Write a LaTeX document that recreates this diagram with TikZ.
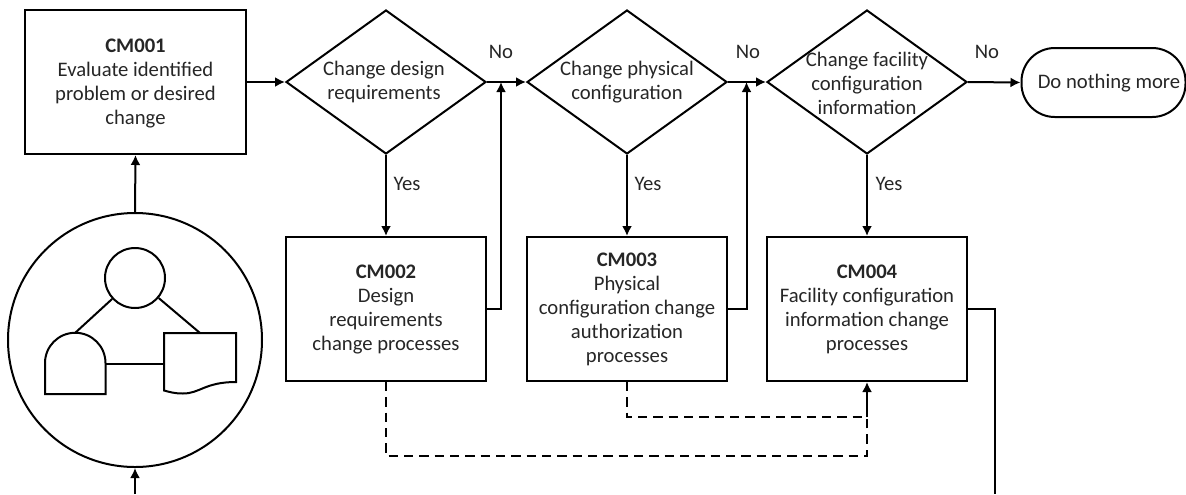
\documentclass[tikz,border=0pt]{standalone}
\usepackage{fontspec}
\setmainfont{Carlito}
\usetikzlibrary{shapes.geometric,arrows.meta,calc}
\tikzset{
  px/.style={x=0.75pt,y=-0.75pt},
  ln/.style={line width=1.5pt,draw=black},
  boxn/.style={ln,rectangle,minimum width=150pt,minimum height=108pt,inner sep=0pt,fill=white},
  first/.style={ln,rectangle,minimum width=165.75pt,minimum height=108pt,inner sep=0pt},
  dia/.style={ln,diamond,minimum width=150pt,minimum height=108pt,inner sep=0pt,aspect=1.389},
  term/.style={ln,rectangle,rounded corners=25pt,minimum width=123pt,minimum height=51.75pt,inner sep=0pt},
  txt/.style={align=center,font=\fontsize{15.5}{18}\selectfont,text=black!85,inner sep=0pt},
  conn/.style={ln,-{Latex[length=7.5pt,width=7.5pt]}},
  plain/.style={ln},
  dashln/.style={ln,dash pattern=on 7pt off 4.5pt},
}
\begin{document}
\begin{tikzpicture}[px]
\useasboundingbox (0,0) rectangle (1186,494);
% boxes
\node[first] (c1) at (135.5,82) {};
\node[txt] (c1t) at (135.5,83) {\textbf{CM001}\\Evaluate identified\\problem or desired\\change};
\node[dia] (d1) at (386,82) {};
\node[txt] (d1t) at (384,82) {Change design\\requirements};
\node[dia] (d2) at (627,82) {};
\node[txt] (d2t) at (627,82) {Change physical\\configuration};
\node[dia] (d3) at (867,82) {};
\node[txt] (d3t) at (867,83) {Change facility\\configuration\\information};
\node[term] (t) at (1103.5,82.5) {};
\node[txt] (tt) at (1109,83) {Do nothing more};
\node[boxn] (c2) at (386,309) {};
\node[txt] (c2t) at (386,309) {\textbf{CM002}\\Design\\requirements\\change processes};
\node[boxn] (c3) at (627,309) {};
\node[txt] (c3t) at (627,309) {\textbf{CM003}\\Physical\\configuration change\\authorization\\processes};
\node[boxn] (c4) at (867,309) {};
\node[txt] (c4t) at (867,309) {\textbf{CM004}\\Facility configuration\\information change\\processes};
% big circle and icon
\node[ln,circle,minimum size=190.5pt,inner sep=0pt] (big) at (135,340) {};
\node[ln,circle,minimum size=45pt,inner sep=0pt] (small) at (135,278) {};
\coordinate (dtop) at (75,333);
\coordinate (dright) at (105.5,364);
\coordinate (doctop) at (200,333);
\coordinate (docleft) at (164,364);
\draw[ln] (45,394) -- (45,363) arc[start angle=180,end angle=360,radius=30.25] -- (105.5,394) -- cycle;
\draw[ln] (164,333) -- (236,333) -- (236,382) .. controls (205,382) and (200,393.5) .. (183,393.5) .. controls (174,393.5) and (170,392) .. (164,390.5) -- cycle;
\draw[plain] (small) -- (dtop);
\draw[plain] (small) -- (doctop);
\draw[plain] (dright) -- (docleft);
% free ends
\coordinate (bin) at (135,494);
\coordinate (bout) at (995,494);
\coordinate (j1) at (501,82);
\coordinate (j2) at (746.5,82);
\coordinate (jd1) at (867,417);
\coordinate (jd2) at (867,456);
% connectors
\draw[conn] (bin) -- (big.south);
\draw[conn] (big.north) -- (c1.south);
\draw[conn] (c1.east) -- (d1.west);
\draw[conn] (d1.east) -- (d2.west);
\draw[conn] (d2.east) -- (d3.west);
\draw[conn] (d3.east) -- (t.west);
\draw[conn] (d1.south) -- (c2.north);
\draw[conn] (d2.south) -- (c3.north);
\draw[conn] (d3.south) -- (c4.north);
\draw[conn] (c2.east) -| (j1);
\draw[conn] (c3.east) -| (j2);
\draw[plain] (c4.east) -| (bout);
\draw[dashln] (c3.south) |- (jd1);
\draw[dashln] (c2.south) |- (jd2) -- (jd1);
\draw[conn] (jd1) -- (c4.south);
% labels
\node[txt] (n1) at (501,52) {No};
\node[txt] (n2) at (748,52) {No};
\node[txt] (n3) at (987,52) {No};
\node[txt] (y1) at (407,184) {Yes};
\node[txt] (y2) at (648,184) {Yes};
\node[txt] (y3) at (889,184) {Yes};
\end{tikzpicture}
\end{document}
